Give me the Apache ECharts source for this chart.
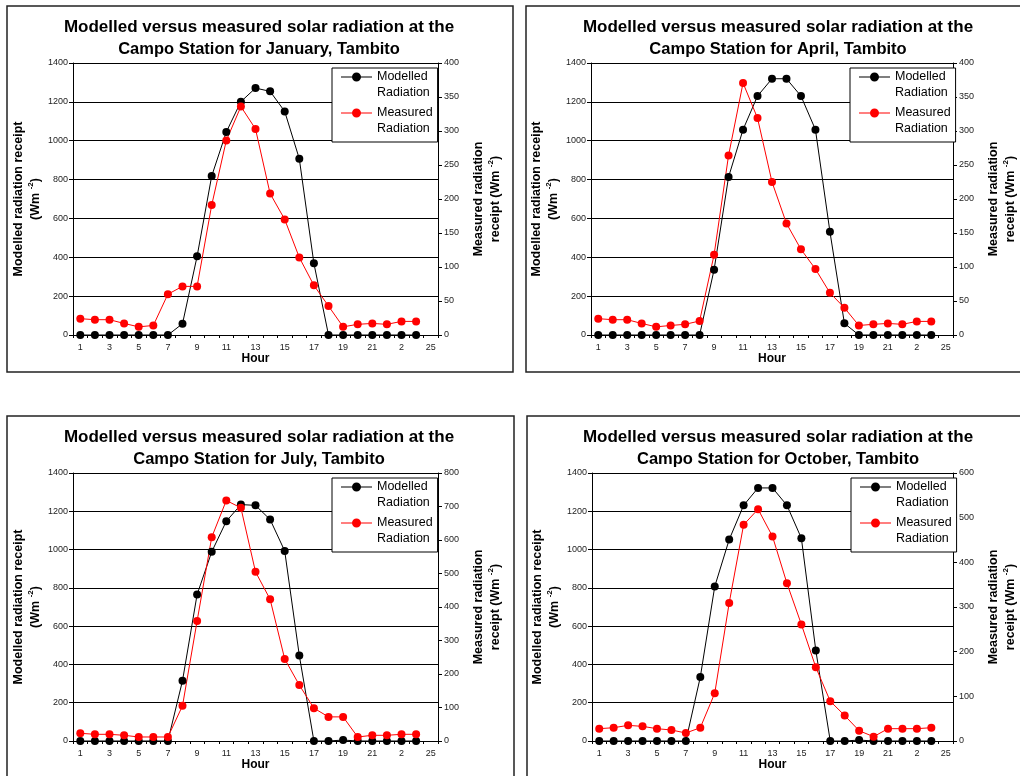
<!DOCTYPE html>
<html>
<head>
<meta charset="utf-8">
<script src="https://cdn.jsdelivr.net/npm/echarts@6/dist/echarts.min.js"></script>
<style>
  html, body { margin: 0; padding: 0; background: #fff; }
  #chart { width: 1020px; height: 776px; }
</style>
</head>
<body>
<div id="chart"></div>
<script>
// hour categories and the labels shown under the axis
var hours = ['1','2','3','4','5','6','7','8','9','10','11','12','13','14','15','16','17','18','19','20','21','22','23','24','25'];
var xTickLabels = ['1','','3','','5','','7','','9','','11','','13','','15','','17','','19','','21','','2','','25'];

var months = ['January', 'April', 'July', 'October'];

// modelled radiation (left axis, Wm-2)
var janModelled = [0,0,0,0,0,0,0,58,405,818,1045,1201,1271,1254,1151,907,369,0,0,0,0,0,0,0];
var aprModelled = [0,0,0,0,0,0,0,0,336,813,1057,1230,1319,1319,1230,1057,532,60,0,0,0,0,0,0];
var julModelled = [0,0,0,0,0,0,0,315,765,988,1148,1235,1231,1157,993,447,0,0,5,0,0,0,0,0];
var octModelled = [0,0,0,0,0,0,0,334,807,1052,1231,1322,1322,1231,1059,473,0,0,5,0,0,0,0,0];

// measured radiation (right axis, Wm-2)
var janMeasured = [24,22.5,22.5,17,12,14,60,71.5,71.5,191,286,336,303,208,170,114,73,42.6,12,15.7,17,15.7,20,20];
var aprMeasured = [24,22.5,22.5,17,12,14,15.7,20.6,118,264,370.6,319,225,164,126,97,62,40,14,15.7,17,15.7,20,20];
var julMeasured = [23,20,20,17,12,12,12,105,358,608,718,696,505,423,245,167,98,72,72,12,17,17,20,20];
var octMeasured = [27.6,29.8,35,32.8,27.6,24.6,17.9,29.8,107,309,484,519,458,353,261,165,89,57,23,9.7,27.6,27.6,27.6,29.8];

var modelled = [janModelled, aprModelled, julModelled, octModelled];
var measured = [janMeasured, aprMeasured, julMeasured, octMeasured];

// right axis ranges
var measuredMax = [400, 400, 800, 600];
var measuredStep = [50, 50, 100, 100];

var FONT = '"Liberation Sans", Arial, sans-serif';

// panel geometry
var panels = [
  { box: [7, 6, 506, 366],   grid: [73, 63, 365, 272],  titleX: 259, titleY: 16,  legend: [332, 68] },
  { box: [526, 6, 520, 366], grid: [591, 63, 366, 272], titleX: 778, titleY: 16,  legend: [850, 68] },
  { box: [7, 416, 507, 380], grid: [73, 473, 365, 268], titleX: 259, titleY: 426, legend: [332, 478] },
  { box: [527, 416, 520, 380], grid: [592, 473, 365, 268], titleX: 778, titleY: 426, legend: [851, 478] }
];

var legendIcon = 'path://M0,0 M31,32 M0,7.5 L31,7.5 L31,8.5 L0,8.5 Z M11,8 A4.5,4.5 0 1 1 20,8 A4.5,4.5 0 1 1 11,8 Z';

var nameRich = {
  sup: { fontSize: 8, fontWeight: 'bold', fontFamily: FONT, color: '#000', verticalAlign: 'top', lineHeight: 17 }
};

function plain(v) { return String(v); }

var option = {
  animation: false,
  backgroundColor: '#fff',
  title: [], legend: [], grid: [], xAxis: [], yAxis: [], series: [],
  graphic: []
};

panels.forEach(function (p, i) {
  option.graphic.push({
    type: 'rect',
    shape: { x: p.box[0], y: p.box[1], width: p.box[2], height: p.box[3] },
    style: { fill: 'none', stroke: '#222', lineWidth: 1.5 },
    z: -10
  });

  option.title.push({
    text: '{a|Modelled versus measured solar radiation at the}\n{b|Campo Station for ' + months[i] + ', Tambito}',
    left: p.titleX,
    top: p.titleY,
    textAlign: 'center',
    padding: 0,
    textStyle: {
      fontFamily: FONT,
      rich: {
        a: { fontSize: 17, fontWeight: 'bold', fontFamily: FONT, color: '#000', lineHeight: 22 },
        b: { fontSize: 16.5, fontWeight: 'bold', fontFamily: FONT, color: '#000', lineHeight: 22 }
      }
    }
  });

  option.grid.push({ left: p.grid[0], top: p.grid[1], width: p.grid[2], height: p.grid[3] });

  option.xAxis.push({
    type: 'category',
    gridIndex: i,
    data: hours,
    boundaryGap: true,
    name: 'Hour',
    nameLocation: 'middle',
    nameGap: 17,
    nameTextStyle: { fontFamily: FONT, fontWeight: 'bold', fontSize: 12, color: '#000' },
    axisLine: { lineStyle: { color: '#000', width: 1 } },
    axisTick: { show: true, interval: 0, length: 3, lineStyle: { color: '#000' } },
    axisLabel: {
      interval: 0, margin: 8, fontSize: 9, fontFamily: FONT, color: '#222',
      formatter: function (v, idx) { return xTickLabels[idx]; }
    },
    splitLine: { show: false }
  });

  option.yAxis.push({
    type: 'value',
    gridIndex: i,
    position: 'left',
    min: 0, max: 1400, interval: 200,
    name: 'Modelled radiation receipt\n(Wm {sup|-2})',
    nameLocation: 'middle',
    nameGap: 25,
    nameTextStyle: { fontFamily: FONT, fontWeight: 'bold', fontSize: 12.5, lineHeight: 17, color: '#000', rich: nameRich },
    axisLine: { show: true, lineStyle: { color: '#000', width: 1 } },
    axisTick: { show: true, length: 4, lineStyle: { color: '#000' } },
    axisLabel: { margin: 5, fontSize: 9, fontFamily: FONT, color: '#222', formatter: plain },
    splitLine: { show: true, lineStyle: { color: '#000', width: 1 } }
  });

  option.yAxis.push({
    type: 'value',
    gridIndex: i,
    position: 'right',
    min: 0, max: measuredMax[i], interval: measuredStep[i],
    name: 'Measured radiation\nreceipt (Wm {sup|-2})',
    nameLocation: 'middle',
    nameGap: 32,
    nameTextStyle: { fontFamily: FONT, fontWeight: 'bold', fontSize: 12.5, lineHeight: 17, color: '#000', rich: nameRich },
    axisLine: { show: true, lineStyle: { color: '#000', width: 1 } },
    axisTick: { show: true, length: 4, lineStyle: { color: '#000' } },
    axisLabel: { margin: 6, fontSize: 9, fontFamily: FONT, color: '#222', formatter: plain },
    splitLine: { show: false }
  });

  option.series.push({
    name: 'Modelled Radiation',
    type: 'line',
    xAxisIndex: i,
    yAxisIndex: i * 2,
    data: modelled[i],
    symbol: 'circle',
    symbolSize: 8,
    color: '#000',
    lineStyle: { color: '#000', width: 1 },
    itemStyle: { color: '#000' }
  });
  option.series.push({
    name: 'Measured Radiation',
    type: 'line',
    xAxisIndex: i,
    yAxisIndex: i * 2 + 1,
    data: measured[i],
    symbol: 'circle',
    symbolSize: 8,
    color: '#ff0000',
    lineStyle: { color: '#ff0000', width: 1 },
    itemStyle: { color: '#ff0000' }
  });

  option.legend.push({
    left: p.legend[0],
    top: p.legend[1],
    orient: 'vertical',
    data: ['Modelled Radiation', 'Measured Radiation'],
    icon: legendIcon,
    itemWidth: 31,
    itemHeight: 32,
    itemGap: 4,
    padding: [1, 5, 5, 9],
    borderColor: '#000',
    borderWidth: 1,
    backgroundColor: '#fff',
    borderRadius: 0,
    selectedMode: false,
    itemStyle: { borderWidth: 0 },
    formatter: function (name) { return name.replace(' ', '\n'); },
    textStyle: { fontFamily: FONT, fontSize: 12.5, lineHeight: 16, color: '#000' }
  });
});

var chart = echarts.init(document.getElementById('chart'));
chart.setOption(option);
</script>
</body>
</html>
